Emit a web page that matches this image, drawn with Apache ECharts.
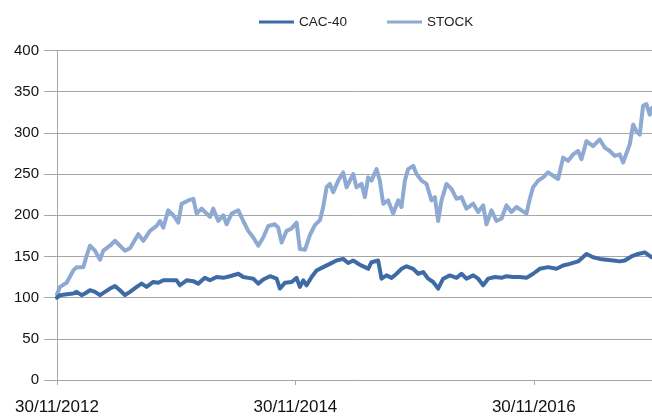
<!DOCTYPE html>
<html>
<head>
<meta charset="utf-8">
<script src="https://cdn.jsdelivr.net/npm/echarts@6/dist/echarts.min.js"></script>
<style>
html,body{margin:0;padding:0;background:#fff;}
#chart{width:652px;height:419px;}
</style>
</head>
<body>
<div id="chart"></div>
<script>
// x values are months elapsed since 30/11/2012
const seriesNames = ['CAC-40', 'STOCK'];
const xTickLabels = ['30/11/2012', '30/11/2014', '30/11/2016'];
const xTickMonths = [0, 24, 48];
const yTicks = [0, 50, 100, 150, 200, 250, 300, 350, 400];

const cacMonths = [0,0.30,0.97,1.64,1.98,2.48,2.82,3.32,3.82,4.33,4.83,5.33,5.84,6.34,6.84,7.35,8.02,8.52,9.02,9.69,10.2,10.7,11.37,12.04,12.38,13.05,13.72,14.22,14.89,15.4,16.07,16.74,17.41,18.25,18.75,19.25,19.76,20.26,20.76,21.44,22.11,22.44,22.95,23.62,24.12,24.45,24.79,25.13,25.63,26.13,26.8,27.47,28.14,28.81,29.31,29.82,30.49,30.99,31.33,31.66,32.33,32.67,33.17,33.68,34.18,34.68,35.19,35.86,36.36,36.86,37.37,37.87,38.37,38.88,39.55,40.22,40.72,41.22,41.9,42.4,42.9,43.4,44.08,44.75,45.25,45.92,46.59,47.26,47.93,48.6,49.44,50.28,50.95,51.62,52.46,53.3,53.97,54.64,55.31,55.98,56.65,57.16,57.83,58.5,59.17,59.88];
const cacValues = [100,103,104,105,107,103,105,109,107,103,107,111,114,109,103,107,113,117,113,119,118,121,121,121,115,121,120,117,124,121,125,124,126,129,125,124,123,117,122,126,123,111,118,119,124,113,121,115,125,133,137,141,145,147,142,145,140,137,135,143,145,123,127,124,129,135,138,135,129,131,123,119,111,123,127,124,129,123,127,123,115,123,125,124,126,125,125,124,129,135,137,135,139,141,144,153,149,147,146,145,144,145,150,153,155,149];

const stockMonths = [0,0.30,0.97,1.64,1.98,2.65,2.99,3.32,3.82,4.33,4.66,5.33,5.84,6.34,6.84,7.35,8.18,8.69,9.36,10.03,10.36,10.70,11.2,11.71,12.21,12.55,13.22,13.72,14.06,14.56,15.06,15.4,15.73,16.24,16.74,17.07,17.58,18.25,18.75,19.25,19.76,20.26,20.76,21.27,21.94,22.27,22.61,23.11,23.62,24.12,24.45,24.96,25.46,25.96,26.47,26.8,27.14,27.47,27.81,28.31,28.81,29.15,29.48,29.82,30.15,30.66,30.99,31.33,31.66,32.17,32.5,32.84,33.34,33.84,34.35,34.68,35.02,35.35,35.86,36.19,36.7,37.2,37.7,38.04,38.37,38.71,39.21,39.71,40.22,40.72,41.22,41.9,42.4,42.9,43.24,43.74,44.24,44.75,45.25,45.75,46.26,46.76,47.26,47.6,47.93,48.44,48.94,49.44,49.95,50.45,50.95,51.46,51.96,52.46,52.8,53.3,53.97,54.64,55.15,55.65,56.15,56.65,56.99,57.66,58.0,58.33,58.67,59.0,59.34,59.67,59.88];
const stockValues = [104,113,118,133,137,137,151,163,157,146,157,163,169,163,157,160,177,169,181,187,193,185,206,200,191,214,218,220,202,208,202,198,208,193,200,189,202,206,193,181,173,163,173,187,189,185,167,181,184,191,159,158,176,188,194,210,234,238,228,242,252,234,242,250,234,238,222,246,242,256,242,214,218,202,218,210,242,256,260,250,242,238,218,222,193,218,238,232,220,222,208,214,204,212,189,206,193,196,212,204,210,206,202,220,234,242,246,252,248,244,270,266,274,278,268,290,284,292,282,278,272,274,264,286,310,302,298,333,335,322,330];

const pairs = (xs, ys) => xs.map((x, i) => [x, ys[i]]);

const FONT = '"Liberation Sans", Arial, sans-serif';
const GRID_COLOR = '#a6a6a6';

const chart = echarts.init(document.getElementById('chart'), null, {renderer: 'canvas'});
chart.setOption({
  animation: false,
  backgroundColor: '#ffffff',
  legend: {
    data: seriesNames,
    left: 254,
    top: 10,
    itemWidth: 35,
    itemHeight: 14,
    itemGap: 40,
    icon: 'path://M0,6 L35,6 L35,9 L0,9 Z',
    textStyle: {fontFamily: FONT, fontSize: 13.5, color: '#222'}
  },
  grid: {left: 57, right: 0, top: 50.5, bottom: 39, containLabel: false},
  xAxis: {
    type: 'value',
    min: 0,
    max: 59.9,
    interval: 24,
    splitLine: {show: false},
    axisLine: {show: true, onZero: false, lineStyle: {color: GRID_COLOR, width: 1}},
    axisTick: {show: true, length: 5, customValues: xTickMonths, lineStyle: {color: GRID_COLOR}},
    axisLabel: {
      customValues: xTickMonths,
      fontFamily: FONT, fontSize: 17, color: '#111', margin: 19,
      formatter: v => xTickLabels[xTickMonths.indexOf(Math.round(v))] || ''
    }
  },
  yAxis: {
    type: 'value',
    min: 0,
    max: 400,
    interval: 50,
    axisLine: {show: true, lineStyle: {color: GRID_COLOR, width: 1}},
    axisTick: {show: true, length: 13, lineStyle: {color: GRID_COLOR}},
    splitLine: {show: true, lineStyle: {color: GRID_COLOR, width: 1}},
    axisLabel: {
      fontFamily: FONT, fontSize: 15, color: '#111', margin: 18,
      formatter: v => yTicks.includes(v) ? String(v) : ''
    }
  },
  series: [
    {
      name: seriesNames[0], type: 'line', symbol: 'none',
      data: pairs(cacMonths, cacValues),
      lineStyle: {color: '#3e6ba6', width: 4, join: 'round', cap: 'round'},
      itemStyle: {color: '#3e6ba6'},
      z: 3
    },
    {
      name: seriesNames[1], type: 'line', symbol: 'none',
      data: pairs(stockMonths, stockValues),
      lineStyle: {color: '#8eaad2', width: 4, join: 'round', cap: 'round'},
      itemStyle: {color: '#8eaad2'},
      z: 2
    }
  ]
});
</script>
</body>
</html>
